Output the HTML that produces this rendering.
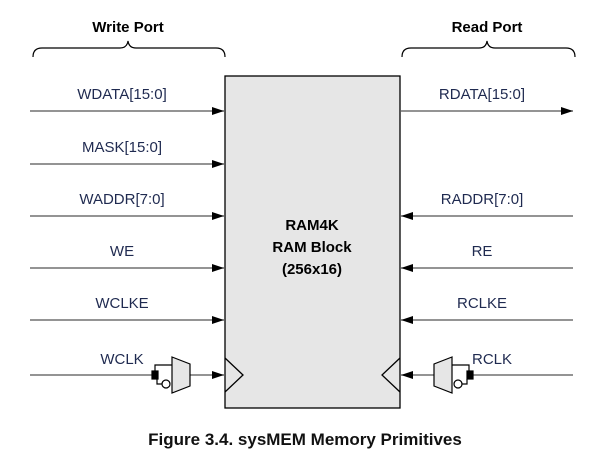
<!DOCTYPE html><html><head><style>body{margin:0;background:#fff}</style></head><body>
<svg width="610" height="469" xmlns="http://www.w3.org/2000/svg" font-family="Liberation Sans, sans-serif">
<defs><marker id="a" markerWidth="12" markerHeight="8" refX="12" refY="4" orient="auto" markerUnits="userSpaceOnUse"><path d="M0,0L12,4L0,8z" fill="#000"/></marker></defs>
<g fill="none" stroke="#000" stroke-width="1.2">
<path d="M33,57 Q33,48 42,48 L120,48 Q127,48 128,41 Q129,48 136,48 L216,48 Q225,48 225,57"/>
<path d="M402,57 Q402,48 411,48 L479,48 Q486,48 487,41 Q488,48 495,48 L566,48 Q575,48 575,57"/>
</g>
<rect x="225" y="76" width="175" height="332" fill="#e6e6e6" stroke="#000" stroke-width="1.3"/>
<g stroke="#000" stroke-width="1.3" fill="none"><path d="M225,358 L243,375 L225,392"/><path d="M400,358 L382,375 L400,392"/></g>
<g stroke="#555" stroke-width="1.3" marker-end="url(#a)">
<line x1="30" y1="111" x2="224" y2="111"/><line x1="30" y1="164" x2="224" y2="164"/><line x1="30" y1="216" x2="224" y2="216"/><line x1="30" y1="268" x2="224" y2="268"/><line x1="30" y1="320" x2="224" y2="320"/>
<line x1="401" y1="111" x2="573" y2="111"/>
<line x1="573" y1="216" x2="401" y2="216"/><line x1="573" y1="268" x2="401" y2="268"/><line x1="573" y1="320" x2="401" y2="320"/>
<line x1="190" y1="375" x2="224" y2="375"/><line x1="434" y1="375" x2="401" y2="375"/>
</g>
<line x1="30" y1="375" x2="152" y2="375" stroke="#555" stroke-width="1.3"/>
<line x1="473" y1="375" x2="573" y2="375" stroke="#555" stroke-width="1.3"/>
<g stroke="#000" stroke-width="1.2">
<path d="M172,357 L190,364 L190,386 L172,393z" fill="#e6e6e6"/>
<path d="M155,371 V365 H172 M157,379 V384 H162" fill="none"/>
<circle cx="166" cy="384" r="4" fill="#fff"/>
<rect x="152" y="371" width="6" height="8" fill="#000"/>
<path d="M452,357 L434,364 L434,386 L452,393z" fill="#e6e6e6"/>
<path d="M469,371 V365 H452 M467,379 V384 H462" fill="none"/>
<circle cx="458" cy="384" r="4" fill="#fff"/>
<rect x="467" y="371" width="6" height="8" fill="#000"/>
</g>
<g font-size="15" fill="#1f2a50" text-anchor="middle">
<text x="122" y="99">WDATA[15:0]</text><text x="122" y="152">MASK[15:0]</text><text x="122" y="204">WADDR[7:0]</text><text x="122" y="256">WE</text><text x="122" y="308">WCLKE</text><text x="122" y="364">WCLK</text>
<text x="482" y="99">RDATA[15:0]</text><text x="482" y="204">RADDR[7:0]</text><text x="482" y="256">RE</text><text x="482" y="308">RCLKE</text><text x="492" y="364">RCLK</text>
</g>
<g font-size="15" font-weight="bold" text-anchor="middle" fill="#000">
<text x="128" y="32">Write Port</text><text x="487" y="32">Read Port</text>
<text x="312" y="230">RAM4K</text><text x="312" y="252">RAM Block</text><text x="312" y="274">(256x16)</text>
<text x="305" y="445" font-size="17" fill="#111">Figure 3.4. sysMEM Memory Primitives</text>
</g>
</svg></body></html>
